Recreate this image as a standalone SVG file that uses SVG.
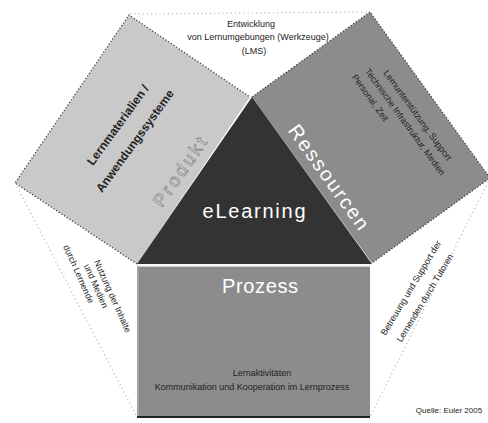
<svg xmlns="http://www.w3.org/2000/svg" width="488" height="423" viewBox="0 0 488 423">
<style>
.t{font-family:"Liberation Sans",Arial,sans-serif;}
.sm{font-size:9px;fill:#222;}
.big{font-size:20px;fill:#fff;}
.bold{font-size:12px;font-weight:bold;fill:#222;}
.dot{fill:none;stroke:#333;stroke-width:1.2;stroke-dasharray:1.2 2;}
.fdot{fill:none;stroke:#bbb;stroke-width:1.2;stroke-dasharray:1.2 3;}
</style>
<rect width="488" height="423" fill="#fff"/>
<g id="outer-top">
<polyline class="fdot" points="130,14 370,12"/>
<text class="t sm" text-anchor="middle"><tspan x="251" y="27">Entwicklung</tspan><tspan x="258" y="40">von Lernumgebungen (Werkzeuge)</tspan><tspan x="254" y="54">(LMS)</tspan></text>
</g>
<g id="outer-left">
<polyline class="fdot" points="15,183 137,417"/>
<text class="t sm" text-anchor="middle" transform="translate(96,286) rotate(66)"><tspan x="16" y="-8">Nutzung der Inhalte</tspan><tspan x="0" y="3">und Medien</tspan><tspan x="-18" y="14">durch Lernende</tspan></text>
</g>
<g id="outer-right">
<polyline class="fdot" points="490,178 370,417"/>
<text class="t sm" text-anchor="middle" transform="translate(411,288) rotate(-59)" y="3">Betreuung und Support der</text>
<text class="t sm" text-anchor="middle" transform="translate(425,298) rotate(-59)" y="3">Lernenden durch Tutoren</text>
</g>
<g id="produkt">
<polygon points="250,97 137,264 15,183 129,15" fill="#c9c9c9"/>
<polyline class="dot" points="137,264 15,183 129,15 250,97"/>
<text class="t bold" text-anchor="middle" transform="translate(118,125) rotate(-54)" y="4">Lernmaterialien /</text>
<text class="t bold" text-anchor="middle" transform="translate(135,141) rotate(-54)" y="4">Anwendungssysteme</text>
<text class="t" font-size="18" fill="#dcdcdc" stroke="#777" stroke-width="0.6" text-anchor="middle" transform="translate(180,172) rotate(-55)" y="6" textLength="80" lengthAdjust="spacing">Produkt</text>
</g>
<g id="ressourcen">
<polygon points="252,97 372,263 490,178 370,12" fill="#8c8c8c"/>
<polyline class="dot" points="252,97 370,12 490,178 372,263"/>
<text class="t sm" text-anchor="middle" transform="translate(405,122) rotate(54)"><tspan x="2" y="-11">Lernunterstützung, Support</tspan><tspan x="0" y="3">Technische Infrastruktur, Medien</tspan><tspan x="-40" y="17">Personal, Zeit</tspan></text>
<text class="t big" text-anchor="middle" transform="translate(329,177) rotate(54.5)" y="7" textLength="124" lengthAdjust="spacing">Ressourcen</text>
</g>
<g id="elearning">
<polygon points="252,97 137,264 372,264" fill="#333"/>
<text class="t big" text-anchor="middle" x="254" y="218" textLength="103" lengthAdjust="spacing">eLearning</text>
</g>
<g id="prozess">
<rect x="137" y="266" width="233" height="151" fill="#8c8c8c"/>
<line x1="137" y1="266" x2="370" y2="266" stroke="#eee" stroke-width="1.5"/>
<line x1="138" y1="266" x2="138" y2="417" stroke="#aaa" stroke-width="1.5"/>
<line x1="137" y1="417" x2="370" y2="417" stroke="#222" stroke-width="2"/>
<text class="t big" text-anchor="middle" x="260" y="293" textLength="76" lengthAdjust="spacing">Prozess</text>
<text class="t sm" text-anchor="middle"><tspan x="262" y="376">Lernaktivitäten</tspan><tspan x="252" y="390">Kommunikation und Kooperation im Lernprozess</tspan></text>
</g>
<g id="quelle">
<text class="t" font-size="8" fill="#222" text-anchor="middle" x="449" y="413">Quelle: Euler 2005</text>
</g>
<g id="connectors"></g>
</svg>
